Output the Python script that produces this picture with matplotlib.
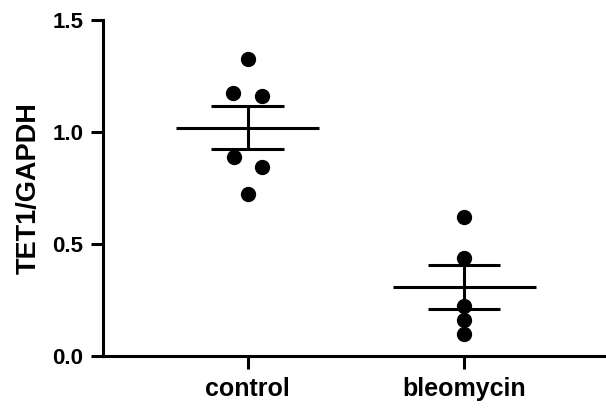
import matplotlib
matplotlib.use("Agg")
import matplotlib.pyplot as plt
import numpy as np

plt.rcParams['font.family'] = ['Liberation Sans', 'DejaVu Sans']

categories = ["control", "bleomycin"]
control_vals = [1.326, 1.174, 1.161, 0.888, 0.844, 0.723]
bleomycin_vals = [0.621, 0.438, 0.223, 0.161, 0.098]
means = [1.02, 0.31]
sems = [0.095, 0.098]
ytick_vals = [0.0, 0.5, 1.0, 1.5]

# horizontal spread of dots (scatter layout)
control_jitter = [0.0, -0.065, 0.065, -0.062, 0.065, 0.0]
bleomycin_jitter = [0.0, 0.0, 0.0, 0.0, 0.0]

fig = plt.figure(figsize=(6.06, 4.09), dpi=100)
ax = fig.add_axes([0.170, 0.1296, 0.830, 0.8214])

groups = [control_vals, bleomycin_vals]
jitters = [control_jitter, bleomycin_jitter]
lw = 2.2
for i, (vals, jit) in enumerate(zip(groups, jitters)):
    xs = [i + j for j in jit]
    ax.plot(xs, vals, 'o', color='black', markersize=10, zorder=3, clip_on=False)
    m, s = means[i], sems[i]
    ax.plot([i - 0.33, i + 0.33], [m, m], color='black', lw=lw, solid_capstyle='butt')
    ax.plot([i - 0.167, i + 0.167], [m + s, m + s], color='black', lw=lw, solid_capstyle='butt')
    ax.plot([i - 0.167, i + 0.167], [m - s, m - s], color='black', lw=lw, solid_capstyle='butt')
    ax.plot([i, i], [m - s, m + s], color='black', lw=lw, solid_capstyle='butt')

ax.set_xlim(-0.667, 1.655)
ax.set_ylim(0, 1.5)
ax.set_xticks(range(len(categories)))
ax.set_xticklabels(categories, fontsize=18, fontweight='bold')
ax.set_yticks(ytick_vals)
ax.set_yticklabels([f"{v:.1f}" for v in ytick_vals], fontsize=16, fontweight='bold')
ax.set_ylabel("TET1/GAPDH", fontsize=19.5, fontweight='bold', labelpad=8)

for side in ['top', 'right']:
    ax.spines[side].set_visible(False)
for side in ['left', 'bottom']:
    ax.spines[side].set_linewidth(2.2)
ax.tick_params(axis='both', width=2.2, length=9, color='black')
ax.tick_params(axis='x', pad=6)
ax.tick_params(axis='y', pad=5)

fig.savefig("out.png", dpi=100)
